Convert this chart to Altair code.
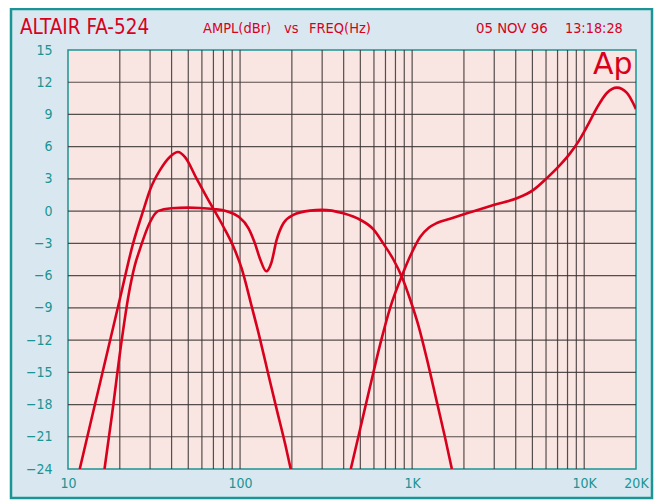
import altair as alt
import pandas as pd

# ---------------- data ----------------
# Curve A: low section with peak
freq_a = [11.7, 14.0, 17.0, 20.0, 23.9, 27.3, 30.0, 34.3, 39.2, 43.6, 48.0,
          56.0, 64.0, 80.0, 91.4, 102, 117, 131, 146, 163, 183, 197]
db_a = [-24.0, -18.7, -13.0, -8.2, -3.0, 0.0, 2.0, 3.84, 5.07, 5.5, 5.0,
        3.0, 1.3, -1.45, -3.3, -5.3, -8.9, -12.0, -15.2, -18.4, -21.7, -24.0]

# Curve B: band section with notch
freq_b = [16.3, 18.0, 20.4, 22.5, 24.5, 26.1, 29.8, 33.3, 39.9, 49.9, 58.5, 70.0, 83.6,
          97.7, 112, 122, 131, 142, 152, 163, 179, 204, 255, 299, 398, 499, 596, 679, 778,
          871, 973, 1090, 1220, 1380, 1550, 1702]
db_b = [-24.0, -19.0, -12.3, -7.8, -5.0, -3.6, -1.1, 0.0, 0.27, 0.33, 0.3, 0.2, 0.0,
        -0.5, -1.6, -3.0, -4.5, -5.6, -4.8, -2.7, -1.1, -0.35, 0.05, 0.12, -0.2, -0.8, -1.7,
        -3.0, -4.5, -6.1, -8.2, -10.7, -13.8, -17.5, -21.0, -24.0]

# Curve C: high section
freq_c = [440, 500, 570, 652, 745, 883, 973, 1113, 1250, 1393, 1663, 2081, 2973, 4063,
          5073, 6066, 7247, 8294, 9270, 10370, 11840, 13540, 15500, 17710, 20000]
db_c = [-24.0, -20.2, -16.3, -12.4, -9.0, -5.8, -4.2, -2.4, -1.55, -1.1, -0.7, -0.2,
        0.58, 1.2, 1.98, 3.07, 4.3, 5.4, 6.5, 7.86, 9.6, 11.0, 11.5, 11.0, 9.5]

grid_freqs = [20, 30, 40, 50, 60, 70, 80, 90, 100,
              200, 300, 400, 500, 600, 700, 800, 900, 1000,
              2000, 3000, 4000, 5000, 6000, 7000, 8000, 9000, 10000]
grid_dbs = [-21, -18, -15, -12, -9, -6, -3, 0, 3, 6, 9, 12]
y_ticks = [-24, -21, -18, -15, -12, -9, -6, -3, 0, 3, 6, 9, 12, 15]
x_ticks = [10, 100, 1000, 10000, 20000]

title_text = "ALTAIR  FA-524"
ampl_text = "AMPL(dBr)"
vs_text = "vs"
freq_text = "FREQ(Hz)"
date_text = "05 NOV 96"
time_text = "13:18:28"
logo_text = "Ap"

# ---------------- styling ----------------
RED = "#d8001c"
TEAL = "#1a9494"
BLUE = "#d9e8f0"
PINK = "#f9e5e2"
GRID = "#3a3232"
FONT = "DejaVu Sans Condensed, Liberation Sans, sans-serif"
W, H = 568, 419

curves = pd.DataFrame({
    "freq": freq_a + freq_b + freq_c,
    "db": db_a + db_b + db_c,
    "series": ["A"] * len(freq_a) + ["B"] * len(freq_b) + ["C"] * len(freq_c),
})
one = pd.DataFrame({"k": [0]})

xscale = alt.Scale(type="log", domain=[10, 20000], nice=False)
yscale = alt.Scale(domain=[-24, 15], nice=False)

xaxis = alt.Axis(values=x_ticks, grid=False, domain=False, ticks=False,
                 labelExpr="datum.value >= 1000 ? format(datum.value/1000, 'd') + 'K' : format(datum.value, 'd')",
                 labelColor=TEAL, labelFont=FONT, labelFontSize=14, labelPadding=7,
                 labelFlush=False, labelOverlap=False, title=None, zindex=1)
yaxis = alt.Axis(values=y_ticks, grid=False, domain=False, ticks=False,
                 labelColor=TEAL, labelFont=FONT, labelFontSize=14, labelPadding=16,
                 labelFlush=False, labelOverlap=False, title=None, zindex=1)

frame = alt.Chart(one).mark_rect(fill=BLUE, stroke=TEAL, strokeWidth=2.5).encode(
    x=alt.value(-57), x2=alt.value(584), y=alt.value(-41), y2=alt.value(448))

plot_bg = alt.Chart(one).mark_rect(fill=PINK, stroke=TEAL, strokeWidth=1.5).encode(
    x=alt.value(0), x2=alt.value(W), y=alt.value(0), y2=alt.value(H))

vgrid = alt.Chart(pd.DataFrame({"freq": grid_freqs})).mark_rule(
    color=GRID, strokeWidth=1.2, opacity=0.85).encode(
    x=alt.X("freq:Q", scale=xscale, axis=xaxis))

hgrid = alt.Chart(pd.DataFrame({"db": grid_dbs})).mark_rule(
    color=GRID, strokeWidth=1.2, opacity=0.85).encode(
    y=alt.Y("db:Q", scale=yscale, axis=yaxis))

lines = alt.Chart(curves).mark_line(
    color=RED, strokeWidth=2.6, interpolate="monotone", clip=True).encode(
    x=alt.X("freq:Q", scale=xscale, axis=xaxis),
    y=alt.Y("db:Q", scale=yscale, axis=yaxis),
    detail="series:N",
    order="freq:Q",
)

def label(txt, x, y, size, font=FONT):
    return alt.Chart(one).mark_text(
        align="left", baseline="alphabetic", color=RED, font=font, fontSize=size).encode(
        x=alt.value(x), y=alt.value(y), text=alt.value(txt))

texts = [
    label(title_text, -48, -16, 20.5),
    label(ampl_text, 135, -17, 14.5),
    label(vs_text, 216, -17, 14.5),
    label(freq_text, 241, -17, 14.5),
    label(date_text, 408, -17, 14.8),
    label(time_text, 497, -17, 14.3),
    label(logo_text, 525, 24, 30, "DejaVu Sans"),
]

chart = alt.layer(frame, plot_bg, vgrid, hgrid, lines, *texts).properties(
    width=W, height=H,
    autosize=alt.AutoSizeParams(type="none"),
    padding={"left": 60, "top": 42, "right": 19, "bottom": 32},
).configure_view(stroke=None).configure(background="white")

chart.save("out.html", embed_options={"renderer": "svg", "actions": False})
